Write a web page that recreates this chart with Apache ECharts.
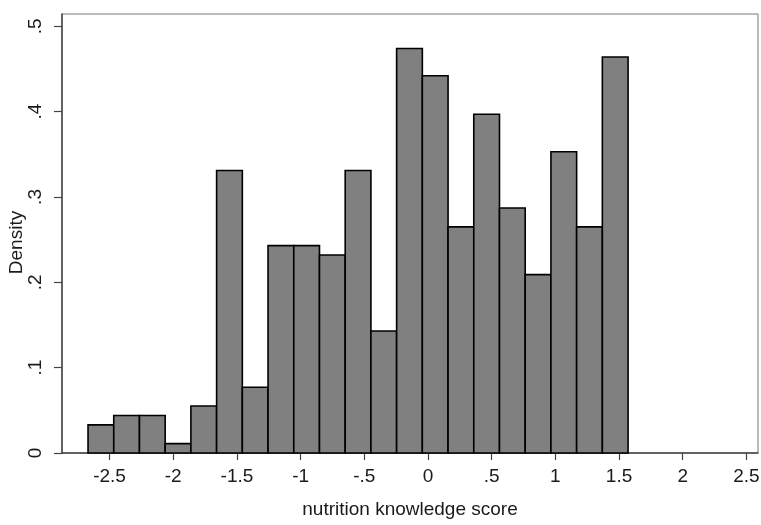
<!DOCTYPE html>
<html>
<head>
<meta charset="utf-8">
<script src="https://cdn.jsdelivr.net/npm/echarts@6/dist/echarts.min.js"></script>
<style>
html,body{margin:0;padding:0;background:#fff;}
#chart{width:761px;height:525px;}
</style>
</head>
<body>
<div id="chart"></div>
<script>
// Histogram bins (Stata default): start, width, densities
var binStart = -2.669;
var binWidth = 0.2019;
var densities = [0.033, 0.044, 0.044, 0.011, 0.055, 0.331, 0.077, 0.243, 0.243, 0.232, 0.331,
                 0.143, 0.474, 0.442, 0.265, 0.397, 0.287, 0.209, 0.353, 0.265, 0.464];
var xTickValues = [-2.5, -2, -1.5, -1, -0.5, 0, 0.5, 1, 1.5, 2, 2.5];
var xTickLabels = ['-2.5', '-2', '-1.5', '-1', '-.5', '0', '.5', '1', '1.5', '2', '2.5'];
var yTickValues = [0, 0.1, 0.2, 0.3, 0.4, 0.5];
var yTickLabels = ['0', '.1', '.2', '.3', '.4', '.5'];

var barData = densities.map(function (d, i) {
  return [binStart + i * binWidth, binStart + (i + 1) * binWidth, d];
});

function labelFor(values, labels) {
  return function (v) {
    for (var i = 0; i < values.length; i++) {
      if (Math.abs(values[i] - v) < 1e-9) return labels[i];
    }
    return '';
  };
}

var chart = echarts.init(document.getElementById('chart'), null, {renderer: 'canvas'});
chart.setOption({
  animation: false,
  backgroundColor: '#fff',
  grid: {left: 62, right: 3, top: 14, bottom: 72, show: true, borderColor: '#777', borderWidth: 1,
    containLabel: false, outerBoundsMode: 'none'},
  xAxis: {
    type: 'value', min: -2.8734, max: 2.591,
    name: 'nutrition knowledge score', nameLocation: 'middle', nameGap: 47, nameMoveOverlap: false,
    nameTextStyle: {fontFamily: 'Liberation Sans', fontSize: 19, color: '#1a1a1a'},
    axisLine: {show: true, onZero: false, lineStyle: {color: '#444', width: 1.5}},
    axisTick: {show: true, inside: false, length: 7, customValues: xTickValues, lineStyle: {color: '#444', width: 1.2}},
    axisLabel: {show: true, margin: 14, customValues: xTickValues, formatter: labelFor(xTickValues, xTickLabels),
      fontFamily: 'Liberation Sans', fontSize: 19, color: '#1a1a1a'},
    splitLine: {show: false}
  },
  yAxis: {
    type: 'value', min: 0, max: 0.5144,
    name: 'Density', nameLocation: 'middle', nameGap: 36, nameRotate: 90, nameMoveOverlap: false,
    nameTextStyle: {fontFamily: 'Liberation Sans', fontSize: 19, color: '#1a1a1a', padding: [0, 18, 0, 0]},
    axisLine: {show: true, onZero: false, lineStyle: {color: '#444', width: 1.5}},
    axisTick: {show: true, inside: false, length: 8, customValues: yTickValues, lineStyle: {color: '#444', width: 1.2}},
    axisLabel: {show: true, margin: 17, rotate: 90, customValues: yTickValues, formatter: labelFor(yTickValues, yTickLabels),
      fontFamily: 'Liberation Sans', fontSize: 19, color: '#1a1a1a'},
    splitLine: {show: false}
  },
  series: [{
    type: 'custom',
    data: barData,
    encode: {x: [0, 1], y: 2},
    renderItem: function (params, api) {
      var p0 = api.coord([api.value(0), api.value(2)]);
      var p1 = api.coord([api.value(1), 0]);
      return {
        type: 'rect',
        shape: {x: p0[0], y: p0[1], width: p1[0] - p0[0], height: p1[1] - p0[1]},
        style: {fill: '#808080', stroke: '#000', lineWidth: 1.6}
      };
    }
  }]
});
</script>
</body>
</html>
